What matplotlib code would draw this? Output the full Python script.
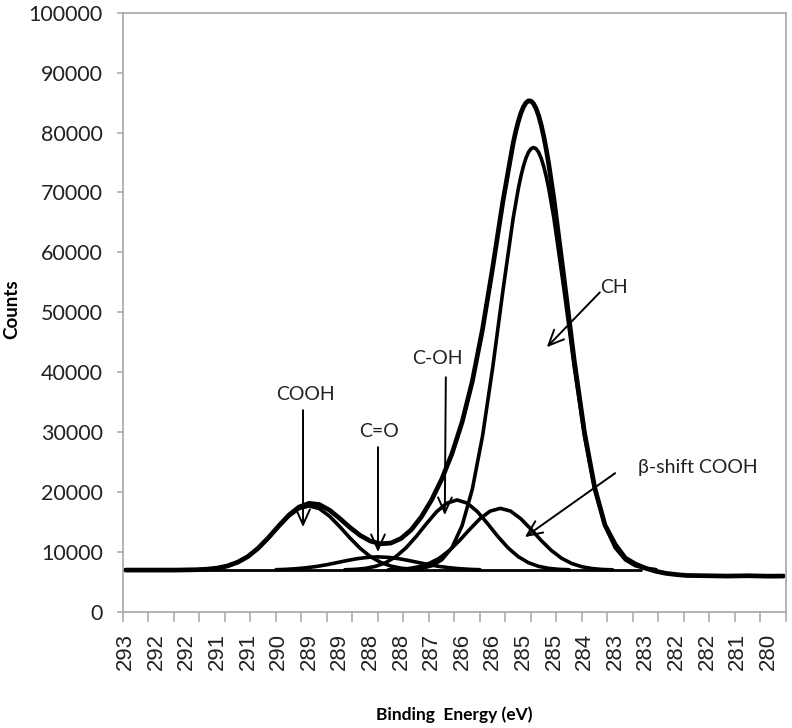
import numpy as np
import matplotlib
matplotlib.use('Agg')
import matplotlib.pyplot as plt
from matplotlib.ticker import FixedLocator

# binding energy (eV) / counts
env_e = [293.0, 292.0, 291.6, 291.4, 291.2, 291.0, 290.8, 290.6, 290.4, 290.2, 290.0,
         289.8, 289.6, 289.4, 289.2, 289.0, 288.8, 288.6, 288.4, 288.2, 288.0, 287.8,
         287.6, 287.4, 287.2, 287.0, 286.8, 286.6, 286.4, 286.2, 286.0, 285.8, 285.7,
         285.6, 285.4, 285.35, 285.3, 285.25, 285.2, 285.15, 285.1, 285.05, 285.0,
         284.95, 284.9, 284.85, 284.8, 284.75, 284.7, 284.6, 284.4, 284.2, 284.0,
         283.8, 283.6, 283.4, 283.2, 283.0, 282.8, 282.6, 282.4, 282.2, 282.0, 281.6,
         281.2, 280.8, 280.4, 280.1]
env_c = [7000, 7000, 7060, 7150, 7330, 7690, 8320, 9260, 10650, 12390, 14330,
         16150, 17510, 18140, 17930, 17000, 15610, 14110, 12790, 11840, 11390, 11500,
         12260, 13700, 15870, 18690, 22170, 26410, 31700, 38510, 47190, 57530, 63050,
         68540, 78200, 80130, 81800, 83190, 84240, 84940, 85290, 85245, 84820,
         84010, 82820, 81260, 79360, 77150, 74630, 68870, 55520, 41810, 29870,
         20730, 14530, 11300, 9000, 8000, 7300, 6800, 6450, 6250, 6100, 6050,
         6000, 6050, 5980, 6000]

ch_e = [287.4, 287.2, 287.0, 286.8, 286.6, 286.4, 286.2, 286.0, 285.8, 285.6, 285.4,
        285.3, 285.25, 285.2, 285.15, 285.1, 285.05, 285.0, 284.95, 284.9, 284.85,
        284.8, 284.75, 284.7, 284.6, 284.4, 284.2, 284.0, 283.8, 283.6, 283.4, 283.2,
        283.0, 282.8, 282.6]
ch_c = [7090, 7280, 7710, 8710, 10740, 14430, 20500, 29370, 40820, 53640, 65670,
        70580, 72620, 74340, 75700, 76700, 77300, 77500, 77300, 76700, 75700,
        74340, 72620, 70580, 65670, 53640, 40820, 29370, 20500, 14430, 10740, 8710,
        7710, 7280, 7090]

beta_e = [287.85, 287.65, 287.45, 287.25, 287.05, 286.85, 286.65, 286.45, 286.25, 286.05,
          285.85, 285.65, 285.45, 285.25, 285.05, 284.85, 284.65, 284.45, 284.25, 284.05,
          283.85, 283.65, 283.45]
beta_c = [7040, 7100, 7250, 7550, 8090, 8970, 10270, 11940, 13810, 15570, 16840, 17300,
          16840, 15570, 13810, 11940, 10270, 8970, 8090, 7550, 7250, 7100, 7040]

coh_e = [288.7, 288.5, 288.3, 288.1, 287.9, 287.7, 287.5, 287.3, 287.1, 286.9, 286.7,
         286.5, 286.3, 286.1, 285.9, 285.7, 285.5, 285.3, 285.1, 284.9, 284.7, 284.5, 284.3]
coh_c = [7050, 7120, 7280, 7620, 8230, 9240, 10710, 12610, 14740, 16740, 18170, 18700,
         18170, 16740, 14740, 12610, 10710, 9240, 8230, 7620, 7280, 7120, 7050]

cooh_e = [291.6, 291.4, 291.2, 291.0, 290.8, 290.6, 290.4, 290.2, 290.0, 289.8, 289.6,
          289.4, 289.2, 289.0, 288.8, 288.6, 288.4, 288.2, 288.0, 287.8, 287.6, 287.4, 287.2]
cooh_c = [7060, 7140, 7320, 7670, 8290, 9250, 10630, 12360, 14250, 15990, 17250, 17700,
          17250, 15990, 14250, 12360, 10630, 9250, 8290, 7670, 7320, 7140, 7060]

co_e = [290.05, 289.85, 289.65, 289.45, 289.25, 289.05, 288.85, 288.65, 288.45, 288.25,
        288.05, 287.85, 287.65, 287.45, 287.25, 287.05, 286.85, 286.65, 286.45, 286.25, 286.05]
co_c = [7060, 7120, 7230, 7390, 7610, 7900, 8250, 8600, 8910, 9120, 9200, 9120, 8910,
        8600, 8250, 7900, 7610, 7390, 7230, 7120, 7060]

base_e = [293.0, 282.9]
base_c = [7000, 7000]

xlabels = ['293', '292', '292', '291', '291', '290', '289', '289', '288', '288', '287',
           '286', '286', '285', '285', '284', '283', '283', '282', '282', '281', '280']

fig = plt.figure(figsize=(7.92, 7.28), dpi=100)
ax = fig.add_axes([0.1553, 0.1593, 0.8371, 0.8233])

kw = dict(color='black', solid_joinstyle='round', solid_capstyle='round')
ax.plot(base_e, base_c, lw=2.0, **kw)
for e, c in [(cooh_e, cooh_c), (co_e, co_c), (coh_e, coh_c), (beta_e, beta_c), (ch_e, ch_c)]:
    ax.plot(e, c, lw=2.6, **kw)
ax.plot(env_e, env_c, lw=3.4, **kw)

ax.set_xlim(293.05, 280.05)
ax.set_ylim(0, 100000)

grey = '#a6a6a6'
for s in ax.spines.values():
    s.set_color(grey)
    s.set_linewidth(1.2)

ax.set_yticks(np.arange(0, 100001, 10000))
ax.set_yticklabels([str(v) for v in range(0, 100001, 10000)], family='Lato', fontsize=15.5, color='#222222')
ax.tick_params(axis='y', length=4.5, width=1.1, color=grey, pad=10)

pos = 293.0 - 0.6 * np.arange(len(xlabels))
ax.xaxis.set_major_locator(FixedLocator(pos))
ax.set_xticklabels(xlabels, rotation=90, family='Liberation Sans', fontsize=16, color='#222222')
ax.tick_params(axis='x', which='major', length=0, pad=15)
ax.xaxis.set_minor_locator(FixedLocator(293.05 - 0.5 * np.arange(27)))
ax.tick_params(axis='x', which='minor', length=7, width=1.1, color=grey)

ax.set_xlabel('Binding  Energy (eV)', family='Lato', fontweight='bold', fontsize=12.5)
ax.xaxis.set_label_coords(0.5, -0.157)
ax.set_ylabel('Counts', family='Lato', fontweight='bold', fontsize=13.5)
ax.yaxis.set_label_coords(-0.155, 0.505)

tfont = dict(family='Lato', fontsize=14, ha='center', va='center', color='#222222')
ax.text(289.48, 36340, 'COOH', **tfont)
ax.text(288.03, 30170, 'C=O', **tfont)
ax.text(286.89, 42340, 'C-OH', **tfont)
ax.text(283.42, 54180, 'CH', **tfont)
ax.text(282.95, 24170, '\u03b2-shift COOH', family='Lato', fontsize=14, ha='left', va='center', color='#222222')

arr = dict(arrowstyle='->,head_length=1.0,head_width=0.45', lw=1.4, color='black',
           shrinkA=0, shrinkB=0, mutation_scale=11)
ax.annotate('', xy=(289.52, 14170), xytext=(289.52, 33670), arrowprops=arr)
ax.annotate('', xy=(288.05, 10000), xytext=(288.05, 27500), arrowprops=arr)
ax.annotate('', xy=(286.74, 16170), xytext=(286.72, 39170), arrowprops=arr)
ax.annotate('', xy=(284.74, 44180), xytext=(283.70, 53340), arrowprops=arr)
ax.annotate('', xy=(285.17, 12500), xytext=(283.40, 23170), arrowprops=arr)

fig.savefig('out.png', dpi=100)
